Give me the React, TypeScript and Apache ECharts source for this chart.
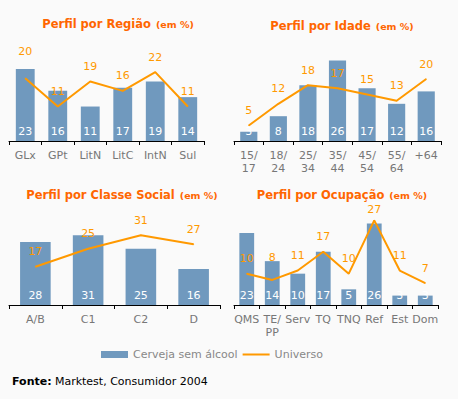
import React, { useEffect, useRef } from "react";
import * as echarts from "echarts";

const regCats = ["GLx", "GPt", "LitN", "LitC", "IntN", "Sul"];
const regBeer = [23, 16, 11, 17, 19, 14];
const regUni = [20, 11, 19, 16, 22, 11];

const ageCats = ["15/\n17", "18/\n24", "25/\n34", "35/\n44", "45/\n54", "55/\n64", "+64"];
const ageBeer = [3, 8, 18, 26, 17, 12, 16];
const ageUni = [5, 12, 18, 17, 15, 13, 20];

const classCats = ["A/B", "C1", "C2", "D"];
const classBeer = [28, 31, 25, 16];
const classUni = [17, 25, 31, 27];

const occCats = ["QMS", "TE/\nPP", "Serv", "TQ", "TNQ", "Ref", "Est", "Dom"];
const occBeer = [23, 14, 10, 17, 5, 26, 3, 3];
const occUni = [10, 8, 11, 17, 10, 27, 11, 7];

const titles = ["Perfil por Região", "Perfil por Idade", "Perfil por Classe Social", "Perfil por Ocupação"];
const yMax = [30, 30, 40, 30];

const BAR = "Cerveja sem álcool";
const LINE = "Universo";
const FONT = "DejaVu Sans";
const BLUE = "#7099be";
const ORANGE = "#ff9900";

// label distance overrides: panel index -> point index -> distance
const labelDist: Record<number, Record<number, number>> = {
  0: { 0: 21 },
  3: { 1: 16, 5: 5 },
};

export default function App() {
  const ref = useRef<HTMLDivElement>(null);
  useEffect(() => {
    document.body.style.margin = "0";
    const chart = echarts.init(ref.current!, null, { renderer: "svg" });
    const panels = [
      { cats: regCats, beer: regBeer, uni: regUni },
      { cats: ageCats, beer: ageBeer, uni: ageUni },
      { cats: classCats, beer: classBeer, uni: classUni },
      { cats: occCats, beer: occBeer, uni: occUni },
    ];
    const grids = [
      { left: 9, top: 47, width: 195, height: 94 },
      { left: 234, top: 48, width: 207, height: 93 },
      { left: 9, top: 215, width: 211, height: 90 },
      { left: 234, top: 211, width: 204, height: 94 },
    ];
    const titlePos = [
      { left: 118, top: 15 },
      { left: 342, top: 17 },
      { left: 122, top: 186 },
      { left: 342, top: 186 },
    ];
    const series: any[] = [];
    panels.forEach((p, i) => {
      series.push({
        type: "bar",
        name: BAR,
        xAxisIndex: i,
        yAxisIndex: i,
        data: p.beer,
        barCategoryGap: "42%",
        itemStyle: { color: BLUE },
        label: {
          show: true,
          position: "insideBottom",
          distance: 4,
          color: "#fff",
          fontFamily: FONT,
          fontSize: 11,
        },
        z: 2,
      });
      series.push({
        type: "line",
        name: LINE,
        xAxisIndex: i,
        yAxisIndex: i,
        data: p.uni.map((v, j) =>
          labelDist[i] && labelDist[i][j] !== undefined
            ? { value: v, label: { distance: labelDist[i][j] } }
            : v
        ),
        symbol: "circle",
        symbolSize: 1,
        itemStyle: { color: ORANGE },
        lineStyle: { color: ORANGE, width: 2 },
        label: {
          show: true,
          position: "top",
          distance: 9,
          color: ORANGE,
          fontFamily: FONT,
          fontSize: 11,
        },
        z: 3,
      });
    });
    chart.setOption({
      animation: false,
      backgroundColor: "#fafafa",
      title: titles.map((t, i) => ({
        text: `{a|${t}} {b|(em %)}`,
        left: titlePos[i].left,
        top: titlePos[i].top,
        textAlign: "center",
        padding: 0,
        textStyle: {
          rich: {
            a: { fontFamily: FONT, fontWeight: "bold", fontSize: 11.5, color: "#ff6600" },
            b: { fontFamily: FONT, fontWeight: "bold", fontSize: 9.5, color: "#ff6600" },
          },
        },
      })),
      grid: grids,
      xAxis: panels.map((p, i) => ({
        type: "category",
        gridIndex: i,
        data: p.cats,
        axisLine: { lineStyle: { color: "#000", width: 1 } },
        axisTick: { show: true, length: 4, lineStyle: { color: "#000" } },
        axisLabel: {
          interval: 0,
          color: "#777",
          fontFamily: FONT,
          fontSize: 11,
          lineHeight: 13,
          margin: 8,
        },
      })),
      yAxis: panels.map((p, i) => ({
        type: "value",
        gridIndex: i,
        min: 0,
        max: yMax[i],
        show: false,
        splitLine: { show: false },
      })),
      legend: {
        left: 101,
        top: 349,
        itemWidth: 27,
        itemHeight: 7,
        itemGap: 4,
        padding: 0,
        textStyle: { color: "#888", fontFamily: FONT, fontSize: 11 },
        data: [
          { name: BAR, icon: "rect" },
          { name: LINE, itemStyle: { opacity: 0 } },
        ],
      },
      graphic: [
        {
          type: "text",
          left: 12,
          top: 375,
          style: {
            text: "{b|Fonte:} {n|Marktest, Consumidor 2004}",
            rich: {
              b: { fontFamily: FONT, fontWeight: "bold", fontSize: 11, fill: "#000" },
              n: { fontFamily: FONT, fontSize: 11, fill: "#000" },
            },
          },
        },
      ],
      series,
    });
    return () => chart.dispose();
  }, []);
  return <div ref={ref} style={{ width: 458, height: 399 }} />;
}
